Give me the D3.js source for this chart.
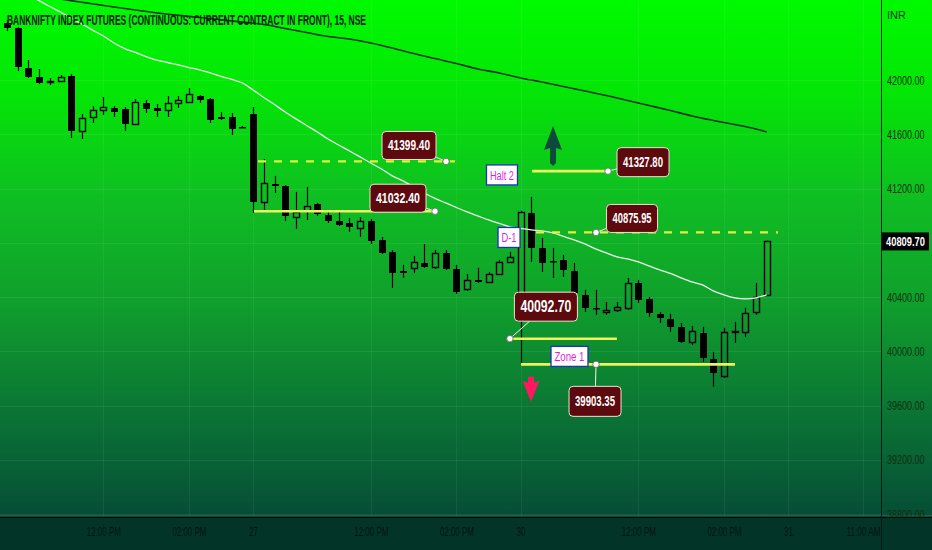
<!DOCTYPE html>
<html><head><meta charset="utf-8">
<script src="https://cdn.jsdelivr.net/npm/d3@7"></script>
<style>html,body{margin:0;padding:0;background:#033428;overflow:hidden}</style>
</head><body><svg id="c" width="932" height="550"></svg>
<script>
// ---- data ----
const opens  = [42420,42383,42088,42022,41985,41993,42029,41624,41727,41779,41794,41786,41676,41831,41794,41779,41831,41838,41882,41860,41727,41727,41654,41749,
                41101,41234,41219,40990,41035,41086,41005,40961,40946,40909,40961,40821,40733,40593,40615,40651,40622,40725,40607,40460,40526,40511,40570,40659,
                40283,41020,40762,40666,40674,40593,40415,40320,40290,40305,40320,40504,40386,40276,40239,40180,40069,40136,39944,39819,40143,40143,40290,40415];
const highs  = [42442,42390,42147,42081,42015,42037,42044,41749,41808,41875,41808,41801,41860,41853,41823,41882,41882,41941,41889,41867,41764,41757,41661,41801,
                41418,41293,41225,41175,41212,41094,41035,41027,40983,40990,40976,40843,40747,40637,40703,40791,40747,40747,40637,40570,40615,40585,40674,40733,
                41035,41138,40836,40762,40710,40651,40453,40453,40364,40364,40541,40526,40401,40290,40276,40209,40187,40180,39996,40173,40217,40320,40504,40816];
const lows   = [42361,42066,42015,41970,41963,41985,41573,41565,41683,41742,41727,41624,41668,41757,41727,41727,41794,41831,41831,41683,41705,41595,41646,41020,
                41042,41167,40961,40902,40968,40998,40946,40924,40880,40843,40791,40718,40467,40541,40578,40615,40607,40600,40423,40445,40504,40504,40563,40651,
                39915,40659,40585,40541,40548,40415,40290,40268,40268,40290,40305,40357,40254,40209,40143,40062,40047,39922,39738,39804,40062,40106,40268,40408];
const closes = [42383,42096,42022,41978,41990,42022,41624,41720,41779,41801,41764,41676,41838,41786,41772,41831,41853,41897,41853,41705,41713,41639,41650,41101,
                41241,41219,40998,41027,41071,41013,40961,40931,40917,40961,40814,40725,40578,40578,40659,40622,40725,40607,40438,40526,40511,40570,40659,40696,
                41027,40762,40651,40662,40600,40430,40320,40318,40305,40327,40504,40379,40283,40246,40180,40069,40150,39951,39841,40143,40147,40283,40401,40809.70];
const fastMa = [42715,42671,42626,42585,42542,42501,42457,42413,42368,42324,42273,42232,42203,42173,42147,42129,42111,42092,42074,42052,42026,42004,41978,41926,
                41871,41819,41764,41713,41665,41617,41565,41521,41477,41433,41388,41344,41293,41256,41212,41167,41127,41094,41060,41027,40998,40968,40943,40917,
                40906,40895,40887,40873,40847,40821,40791,40755,40725,40696,40681,40659,40629,40600,40574,40541,40511,40489,40445,40416,40394,40386,40394,40416];
const slowMaIdx = [0,5,6,10,14,18,22,24,26,28,30,32,34,36,38,40,42,44,46,48,50,52,54,56,58,60,62,64,66,68,70,71];
const slowMa    = [42656,42597,42585,42538,42494,42461,42427,42409,42380,42350,42321,42302,42273,42236,42195,42158,42122,42081,42052,42015,41985,41952,41919,41886,41849,41812,41775,41735,41702,41672,41639,41617];
const gridPrices = [38800,39200,39600,40000,40400,40800,41200,41600,42000];
const priceTicks = [38800,39200,39600,40000,40400,41200,41600,42000];
const timeTickIdx = [9,17,23,34,42,48,59,67,73,80];
const timeTickLabels = ["12:00 PM","02:00 PM","27","12:00 PM","02:00 PM","30","12:00 PM","02:00 PM","31","11:00 AM"];
const lastPrice = 40809.70;
const titleText = "BANKNIFTY INDEX FUTURES (CONTINUOUS: CURRENT CONTRACT IN FRONT), 15, NSE";
const currencyText = "INR";
// price levels drawn on the chart (anchored by bar index and price)
const levelPrices = [41399.40, 41032.40, 41327.80, 40875.95, 40092.70, 39903.35];
const levelStart  = [23.46, 23.08, 49.07, 49.44, 47.0, 48.04];
const levelEnd    = [41.87, 40.0, 56.17, 72.06, 57.0, 68.04];
const levelPin    = [41.03, 40.0, 56.17, 55.05, 47.0, 55.05];
const levelDashed = [true, false, false, true, false, false];
// text notes
const noteTexts = ["Halt 2", "D-1", "Zone 1"];
const noteIdx   = [46.26, 46.92, 52.57];
const notePrice = [41300, 40839, 39962];
// arrow markers
const arrowIdx   = [51.03, 48.97];
const arrowPrice = [41661, 39627];
const arrowDir   = ["up", "down"];

// ---- layout ----
const W = 932, H = 550, plotR = 881, plotB = 517;
const svg = d3.select('#c');
const x = d3.scaleLinear().domain([0, 71]).range([7, 766.7]);
const y = d3.scaleLinear().domain([38800, 42000]).range([514, 80]);
const NARROW = "'Liberation Sans Narrow','Liberation Sans','DejaVu Sans Condensed',sans-serif";
const fit = (sel, len) => sel.attr('textLength', len).attr('lengthAdjust', 'spacingAndGlyphs');

const defs = svg.append('defs');
const grad = defs.append('linearGradient').attr('id','bg').attr('gradientUnits','userSpaceOnUse')
  .attr('x1',0).attr('y1',0).attr('x2',0).attr('y2',plotB);
[[0,'#00fa00'],[0.18,'#04e606'],[0.38,'#0fbf22'],[0.58,'#10a02c'],[0.78,'#0b7834'],[1,'#064d36']]
  .forEach(([o,c])=>grad.append('stop').attr('offset',o).attr('stop-color',c));
defs.append('clipPath').attr('id','plotclip').append('rect').attr('x',0).attr('y',0).attr('width',plotR).attr('height',plotB);

svg.append('rect').attr('width',W).attr('height',plotB).attr('fill','url(#bg)');
svg.append('rect').attr('y',plotB).attr('width',W).attr('height',H-plotB).attr('fill','#033428');

// grid
const grid = svg.append('g').attr('clip-path','url(#plotclip)');
gridPrices.forEach(p=>grid.append('line').attr('x1',0).attr('x2',plotR)
  .attr('y1',Math.round(y(p))+0.5).attr('y2',Math.round(y(p))+0.5)
  .attr('stroke','rgba(255,255,255,0.07)'));
timeTickIdx.forEach(t=>grid.append('line').attr('y1',0).attr('y2',plotB)
  .attr('x1',Math.round(x(t))+0.5).attr('x2',Math.round(x(t))+0.5)
  .attr('stroke','rgba(255,255,255,0.06)'));

const plot = svg.append('g').attr('clip-path','url(#plotclip)');

// slow MA (dark)
plot.append('path').datum(slowMaIdx.map((d,i)=>[d, slowMa[i]]))
  .attr('d', d3.line().x(d=>x(d[0])).y(d=>y(d[1])).curve(d3.curveMonotoneX))
  .attr('fill','none').attr('stroke','#0b3418').attr('stroke-width',1.6);

// candles
const cg = plot.append('g');
opens.forEach((o,i)=>{
  const c = closes[i], h = highs[i], l = lows[i];
  const cx = Math.round(x(i)) + 0.5;
  const up = c >= o;
  const yt = Math.round(y(Math.max(o,c))), yb = Math.round(y(Math.min(o,c)));
  cg.append('line').attr('x1',cx).attr('x2',cx).attr('y1',y(h)).attr('y2',y(l))
    .attr('stroke','#000').attr('stroke-width',1.2);
  if (up) {
    cg.append('rect').attr('x',cx-3).attr('y',yt+0.5).attr('width',6).attr('height',Math.max(yb-yt,1))
      .attr('fill','url(#bg)').attr('stroke','#000').attr('stroke-width',1.4);
  } else {
    cg.append('rect').attr('x',cx-3.5).attr('y',yt).attr('width',7).attr('height',Math.max(yb-yt,1.5))
      .attr('fill','#000');
  }
});

// fast MA (white)
plot.append('path').datum(fastMa.map((d,i)=>[i,d]))
  .attr('d', d3.line().x(d=>x(d[0])).y(d=>y(d[1])).curve(d3.curveMonotoneX))
  .attr('fill','none').attr('stroke','#eaf8ea').attr('stroke-width',1.3);

// levels
const lv = plot.append('g');
const boxOff = [[-37,-16],[-37,-13],[35,-9],[36,-14],[36,-32],[-1,37]];
const boxSize = [[54,28],[56,28],[52,29],[51,28],[63,29],[52,30]];
const boxFont = [14,14,14,14,16,14];
levelPrices.forEach((p,i)=>{
  lv.append('line').attr('x1',x(levelStart[i])).attr('x2',x(levelEnd[i]))
    .attr('y1',y(p)).attr('y2',y(p))
    .attr('stroke', levelDashed[i] ? '#e6f040' : '#eef25e')
    .attr('stroke-width', levelDashed[i] ? 2.2 : 2.6)
    .attr('stroke-dasharray', levelDashed[i] ? '8,8' : null);
});
// notes
const noteW = [31, 22, 37];
noteTexts.forEach((t,i)=>{
  const cx = x(noteIdx[i]), cy = y(notePrice[i]);
  const w = noteW[i], h = 20;
  lv.append('rect').attr('x',cx-w/2).attr('y',cy-h/2).attr('width',w).attr('height',h)
    .attr('fill','#ffffff').attr('stroke','#1f2fbf').attr('stroke-width',1.3);
  fit(lv.append('text').attr('x',cx).attr('y',cy).attr('dy','0.36em').attr('text-anchor','middle')
    .attr('font-family',NARROW).attr('font-size',13).attr('fill','#e01ee0').text(t), w - 7);
});
// price boxes with pins
levelPrices.forEach((p,i)=>{
  const px = x(levelPin[i]), py = y(p);
  const bx = px + boxOff[i][0], by = py + boxOff[i][1];
  const [bw,bh] = boxSize[i];
  lv.append('line').attr('x1',px).attr('y1',py).attr('x2',bx).attr('y2',by)
    .attr('stroke','#f4f4f4').attr('stroke-width',1);
  lv.append('rect').attr('x',bx-bw/2).attr('y',by-bh/2).attr('width',bw).attr('height',bh).attr('rx',4)
    .attr('fill','#5c0a0e').attr('stroke','#f0e2d4').attr('stroke-width',1);
  fit(lv.append('text').attr('x',bx).attr('y',by).attr('dy','0.36em').attr('text-anchor','middle')
    .attr('font-family',NARROW).attr('font-weight','bold').attr('font-size',boxFont[i])
    .attr('fill','#ffffff').text(d3.format('.2f')(p)), bw - 12);
  lv.append('circle').attr('cx',px).attr('cy',py).attr('r',3.2)
    .attr('fill','#ffffff').attr('stroke','#666').attr('stroke-width',0.8);
});
// arrows
arrowIdx.forEach((a,i)=>{
  const ax = x(a), ay = y(arrowPrice[i]);
  if (arrowDir[i] === 'up') {
    const pts = [[0,0],[9,24],[3,22],[3,37],[0,40],[-3,37],[-3,22],[-9,24]];
    lv.append('polygon').attr('points',pts.map(q=>[ax+q[0],ay+q[1]].join(',')).join(' ')).attr('fill','#0e4a3c');
  } else {
    const pts = [[0,0],[-8.5,-21],[-3,-19],[-3,-25],[3,-25],[3,-19],[8.5,-21]];
    lv.append('polygon').attr('points',pts.map(q=>[ax+q[0],ay+q[1]].join(',')).join(' ')).attr('fill','#ff1860');
  }
});

// title
fit(svg.append('text').attr('x',7).attr('y',20).attr('dy','0.36em')
  .attr('font-family',NARROW).attr('font-weight','bold').attr('font-size',15).attr('fill','#0d200d').text(titleText), 359);

// axes lines
svg.append('line').attr('x1',0).attr('x2',W).attr('y1',plotB-1.5).attr('y2',plotB-1.5).attr('stroke','#2a5c4a').attr('stroke-width',1);
svg.append('line').attr('x1',0).attr('x2',W).attr('y1',plotB+0.5).attr('y2',plotB+0.5).attr('stroke','#000').attr('stroke-width',1.2);
svg.append('line').attr('x1',plotR+0.5).attr('x2',plotR+0.5).attr('y1',0).attr('y2',H).attr('stroke','#0a1a10').attr('stroke-width',1);

// price axis (narrowed glyphs by horizontal scale)
const SX = 0.72;
const yAx = svg.append('g').attr('transform',`translate(${plotR},0)`)
  .call(d3.axisRight(y).tickValues(priceTicks).tickFormat(d3.format('.2f')).tickSize(0).tickPadding(6));
yAx.select('.domain').remove();
yAx.selectAll('text').attr('font-family',NARROW).attr('font-size',12.5).attr('fill','#0f2f0f')
  .attr('x', 6 / SX).attr('transform', `scale(${SX},1)`);
svg.append('text').attr('x',887).attr('y',15).attr('dy','0.36em').attr('font-family',NARROW)
  .attr('font-size',11).attr('fill','#1a3a1a').text(currencyText);

// last price label
svg.append('rect').attr('x',plotR+1).attr('y',y(lastPrice)-9).attr('width',47).attr('height',18).attr('fill','#000');
svg.append('g').attr('transform',`translate(${plotR+24.5},${y(lastPrice)}) scale(0.72,1)`)
  .append('text').attr('dy','0.36em').attr('text-anchor','middle')
  .attr('font-family',NARROW).attr('font-weight','bold').attr('font-size',13).attr('fill','#fff').text(d3.format('.2f')(lastPrice));

// time axis
const xAx = svg.append('g').attr('transform',`translate(0,${plotB})`)
  .call(d3.axisBottom(x).tickValues(timeTickIdx).tickFormat((d,i)=>timeTickLabels[i]).tickSize(0).tickPadding(10));
xAx.select('.domain').remove();
xAx.selectAll('text').attr('font-family',NARROW).attr('font-size',12).attr('fill','#01150e')
  .each(function(d,i){ const t = timeTickLabels[i]; d3.select(this).attr('textLength', t.length > 3 ? 34 : 9).attr('lengthAdjust','spacingAndGlyphs'); });
</script>
</body></html>
